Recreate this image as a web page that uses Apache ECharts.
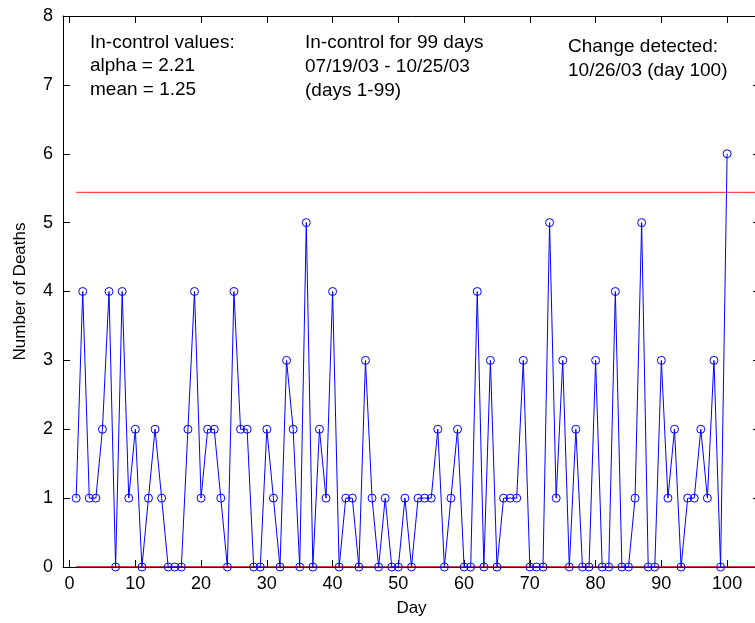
<!DOCTYPE html>
<html>
<head>
<meta charset="utf-8">
<script src="https://cdn.jsdelivr.net/npm/echarts@6/dist/echarts.min.js"></script>
<style>
  html, body { margin: 0; padding: 0; overflow: hidden; background: #fff; }
  #chart { width: 760px; height: 623px; }
</style>
</head>
<body>
<div id="chart"></div>
<script>
// Daily death counts, days 1..100
const deaths = [
  1, 4, 1, 1, 2, 4, 0, 4, 1, 2,
  0, 1, 2, 1, 0, 0, 0, 2, 4, 1,
  2, 2, 1, 0, 4, 2, 2, 0, 0, 2,
  1, 0, 3, 2, 0, 5, 0, 2, 1, 4,
  0, 1, 1, 0, 3, 1, 0, 1, 0, 0,
  1, 0, 1, 1, 1, 2, 0, 1, 2, 0,
  0, 4, 0, 3, 0, 1, 1, 1, 3, 0,
  0, 0, 5, 1, 3, 0, 2, 0, 0, 3,
  0, 0, 4, 0, 0, 1, 5, 0, 0, 3,
  1, 2, 0, 1, 1, 2, 1, 3, 0, 6
];
const firstDay = 1;
const upperLimit = 5.44;
const lowerLimit = 0;
const limitSpan = [1, 105];
const xTicks = [0, 10, 20, 30, 40, 50, 60, 70, 80, 90, 100];
const yTicks = [0, 1, 2, 3, 4, 5, 6, 7, 8];

const noteLeft = ['In-control values:', 'alpha = 2.21', 'mean = 1.25'];
const noteMid = ['In-control for 99 days', '07/19/03 - 10/25/03', '(days 1-99)'];
const noteRight = ['Change detected:', '10/26/03 (day 100)'];

const points = deaths.map((v, i) => [firstDay + i, v]);

const FONT = 'Liberation Sans, Arial, Helvetica, sans-serif';
const chart = echarts.init(document.getElementById('chart'), null, { renderer: 'canvas' });

// stacked lines of annotation text, placed in pixels
function noteBlock(lines, x, y0, step) {
  return lines.map((t, i) => ({
    type: 'text',
    left: x,
    top: y0 + i * step,
    style: { text: t, fill: '#000', font: '19px ' + FONT },
    z: 10
  }));
}

const axisCommon = {
  axisLine: { show: true, onZero: false, lineStyle: { color: '#000', width: 1 } },
  splitLine: { show: false }
};

chart.setOption({
  animation: false,
  backgroundColor: '#fff',
  grid: { left: 63, right: 0, top: 16, bottom: 56, containLabel: false },
  xAxis: [
    Object.assign({
      type: 'value', min: -1, max: 105, position: 'bottom',
      name: 'Day', nameLocation: 'middle', nameGap: 33,
      nameTextStyle: { color: '#000', fontSize: 17, fontFamily: FONT },
      axisTick: { show: true, inside: true, length: 7, customValues: xTicks, lineStyle: { color: '#000' } },
      axisLabel: { show: true, customValues: xTicks, color: '#000', fontSize: 18, fontFamily: FONT, margin: 8 }
    }, axisCommon),
    Object.assign({
      type: 'value', min: -1, max: 105, position: 'top',
      axisTick: { show: true, inside: true, length: 7, customValues: xTicks, lineStyle: { color: '#000' } },
      axisLabel: { show: false }
    }, axisCommon)
  ],
  yAxis: [
    Object.assign({
      type: 'value', min: 0, max: 8, interval: 1, position: 'left',
      name: 'Number of Deaths', nameLocation: 'middle', nameGap: 34,
      nameTextStyle: { color: '#000', fontSize: 17, fontFamily: FONT },
      axisTick: { show: true, inside: true, length: 7, customValues: yTicks, lineStyle: { color: '#000' } },
      axisLabel: { show: true, customValues: yTicks, color: '#000', fontSize: 18, fontFamily: FONT, margin: 10 }
    }, axisCommon),
    Object.assign({
      type: 'value', min: 0, max: 8, interval: 1, position: 'right',
      axisTick: { show: true, inside: true, length: 7, customValues: yTicks, lineStyle: { color: '#000' } },
      axisLabel: { show: false }
    }, axisCommon)
  ],
  series: [
    {
      name: 'Upper limit', type: 'line', xAxisIndex: 0, yAxisIndex: 0,
      data: limitSpan.map(d => [d, upperLimit]),
      symbol: 'none', silent: true,
      lineStyle: { color: '#ff2020', width: 1 }, z: 3
    },
    {
      name: 'Lower limit', type: 'line', xAxisIndex: 0, yAxisIndex: 0,
      data: limitSpan.map(d => [d, lowerLimit]),
      symbol: 'none', silent: true,
      lineStyle: { color: '#c00000', width: 1.5 }, z: 3
    },
    {
      name: 'Deaths', type: 'line', xAxisIndex: 0, yAxisIndex: 0,
      data: points,
      symbol: 'circle', symbolSize: 8, showAllSymbol: true,
      lineStyle: { color: '#0000ff', width: 1 },
      itemStyle: { color: 'rgba(0,0,0,0)', borderColor: '#0000ff', borderWidth: 1 },
      z: 4
    }
  ],
  graphic: [].concat(
    noteBlock(noteLeft, 90, 33, 23.5),
    noteBlock(noteMid, 305, 33, 24),
    noteBlock(noteRight, 568, 37, 24)
  )
});
</script>
</body>
</html>
